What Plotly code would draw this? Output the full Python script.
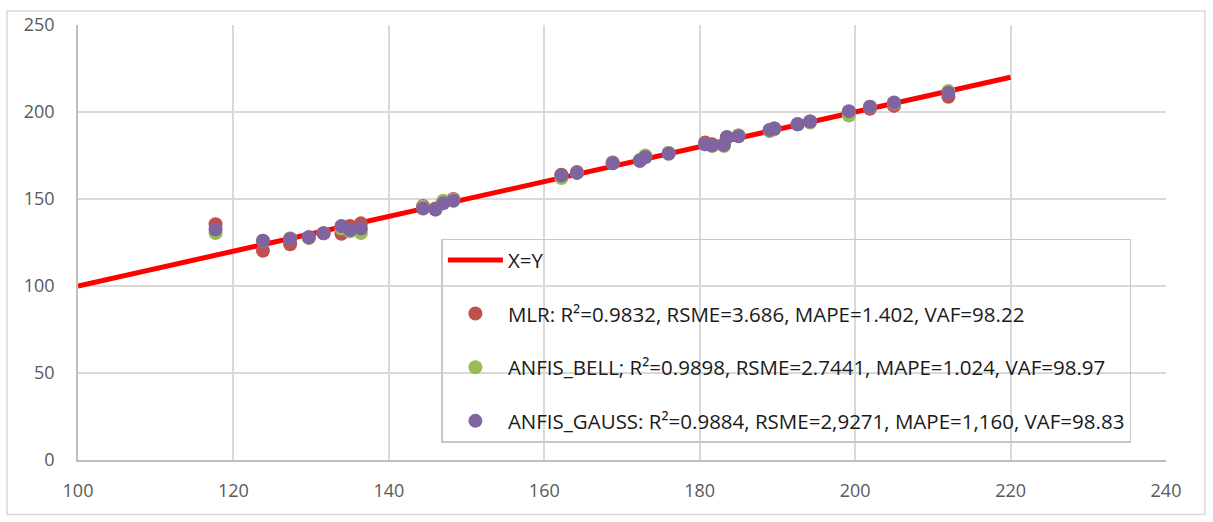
import plotly.graph_objects as go

# Measured values (shared x) and the three model predictions
x_vals = [117.7, 123.8, 127.3, 129.7, 131.6, 133.9, 135.0, 136.4, 144.4, 146.0,
          147.0, 148.3, 162.2, 164.2, 168.8, 172.3, 173.0, 176.0, 180.7, 181.6,
          183.1, 183.5, 185.0, 189.0, 189.6, 192.6, 194.2, 199.2, 201.9, 205.0,
          212.0]
mlr = [135.5, 120.3, 124.0, 128.0, 130.3, 130.0, 134.5, 136.0, 146.0, 144.5,
       148.5, 150.0, 164.0, 165.5, 171.0, 172.0, 174.5, 176.5, 182.5, 181.5,
       181.5, 185.5, 186.5, 189.5, 190.5, 193.0, 194.5, 199.5, 201.8, 203.5,
       208.8]
bell = [130.5, 126.0, 127.5, 127.5, 130.3, 133.0, 131.5, 130.5, 145.5, 144.0,
        149.0, 149.5, 162.0, 165.0, 170.5, 172.5, 175.0, 176.5, 181.5, 180.5,
        180.5, 185.5, 186.5, 189.0, 190.0, 193.0, 194.0, 198.0, 203.0, 205.0,
        212.0]
gauss = [132.5, 126.0, 127.0, 128.0, 130.3, 134.5, 132.2, 133.0, 144.5, 144.0,
         147.5, 149.0, 163.5, 165.0, 170.5, 172.0, 174.0, 176.0, 181.5, 180.8,
         181.0, 185.5, 186.0, 189.7, 190.5, 193.0, 194.5, 200.5, 203.0, 205.5,
         211.0]

# Reference line X=Y
line_x = [100, 220]
line_y = [100, 220]

series_names = [
    "MLR: R²=0.9832, RSME=3.686, MAPE=1.402, VAF=98.22",
    "ANFIS_BELL; R²=0.9898, RSME=2.7441, MAPE=1.024, VAF=98.97",
    "ANFIS_GAUSS: R²=0.9884, RSME=2,9271, MAPE=1,160, VAF=98.83",
]
series_colors = ["#c0504d", "#9bbb59", "#8064a2"]

x_ticks = [100, 120, 140, 160, 180, 200, 220, 240]
y_ticks = [0, 50, 100, 150, 200, 250]

fig = go.Figure()
fig.add_trace(go.Scatter(
    x=line_x, y=line_y, mode="lines", name="X=Y", legendgroup="g0",
    line=dict(color="#ff0000", width=5),
))
for i, (name, ys, col) in enumerate(zip(series_names, [mlr, bell, gauss], series_colors)):
    fig.add_trace(go.Scatter(
        x=x_vals, y=ys, mode="markers", name=name, legendgroup=f"g{i+1}",
        marker=dict(color=col, size=14, line=dict(width=0)),
    ))

grid = "#d9d9d9"
tick_font = dict(family="Open Sans, sans-serif", size=18, color="#595959")

fig.update_layout(
    width=1213, height=522,
    margin=dict(l=78, r=47, t=19, b=62),
    paper_bgcolor="white", plot_bgcolor="white",
    showlegend=True,
    legend=dict(
        x=0.334, y=0.509, xanchor="left", yanchor="top",
        bgcolor="rgba(0,0,0,0)", bordercolor="#c8c8c8", borderwidth=1.5,
        font=dict(family="Open Sans, sans-serif", size=20.5, color="#1a1a1a"),
        itemwidth=55, tracegroupgap=24,
    ),
    xaxis=dict(
        range=[100, 240], tickvals=x_ticks, showgrid=True, gridcolor=grid,
        gridwidth=1.5, zeroline=False, showline=True, linecolor="#bfbfbf",
        linewidth=1.5, ticks="", tickfont=tick_font, ticklabelstandoff=14,
        mirror=False,
    ),
    yaxis=dict(
        range=[0, 250], tickvals=y_ticks, showgrid=True, gridcolor=grid,
        gridwidth=1.5, zeroline=False, showline=True, linecolor="#bfbfbf",
        linewidth=1.5, ticks="", tickfont=tick_font, ticklabelstandoff=18,
    ),
    shapes=[dict(
        type="rect", xref="paper", yref="paper",
        x0=-0.0653, x1=1.0358, y0=-0.1253, y1=1.0319,
        line=dict(color="#d9d9d9", width=1.5), fillcolor="rgba(0,0,0,0)",
        layer="below",
    )],
)

fig.write_html("out.html")
